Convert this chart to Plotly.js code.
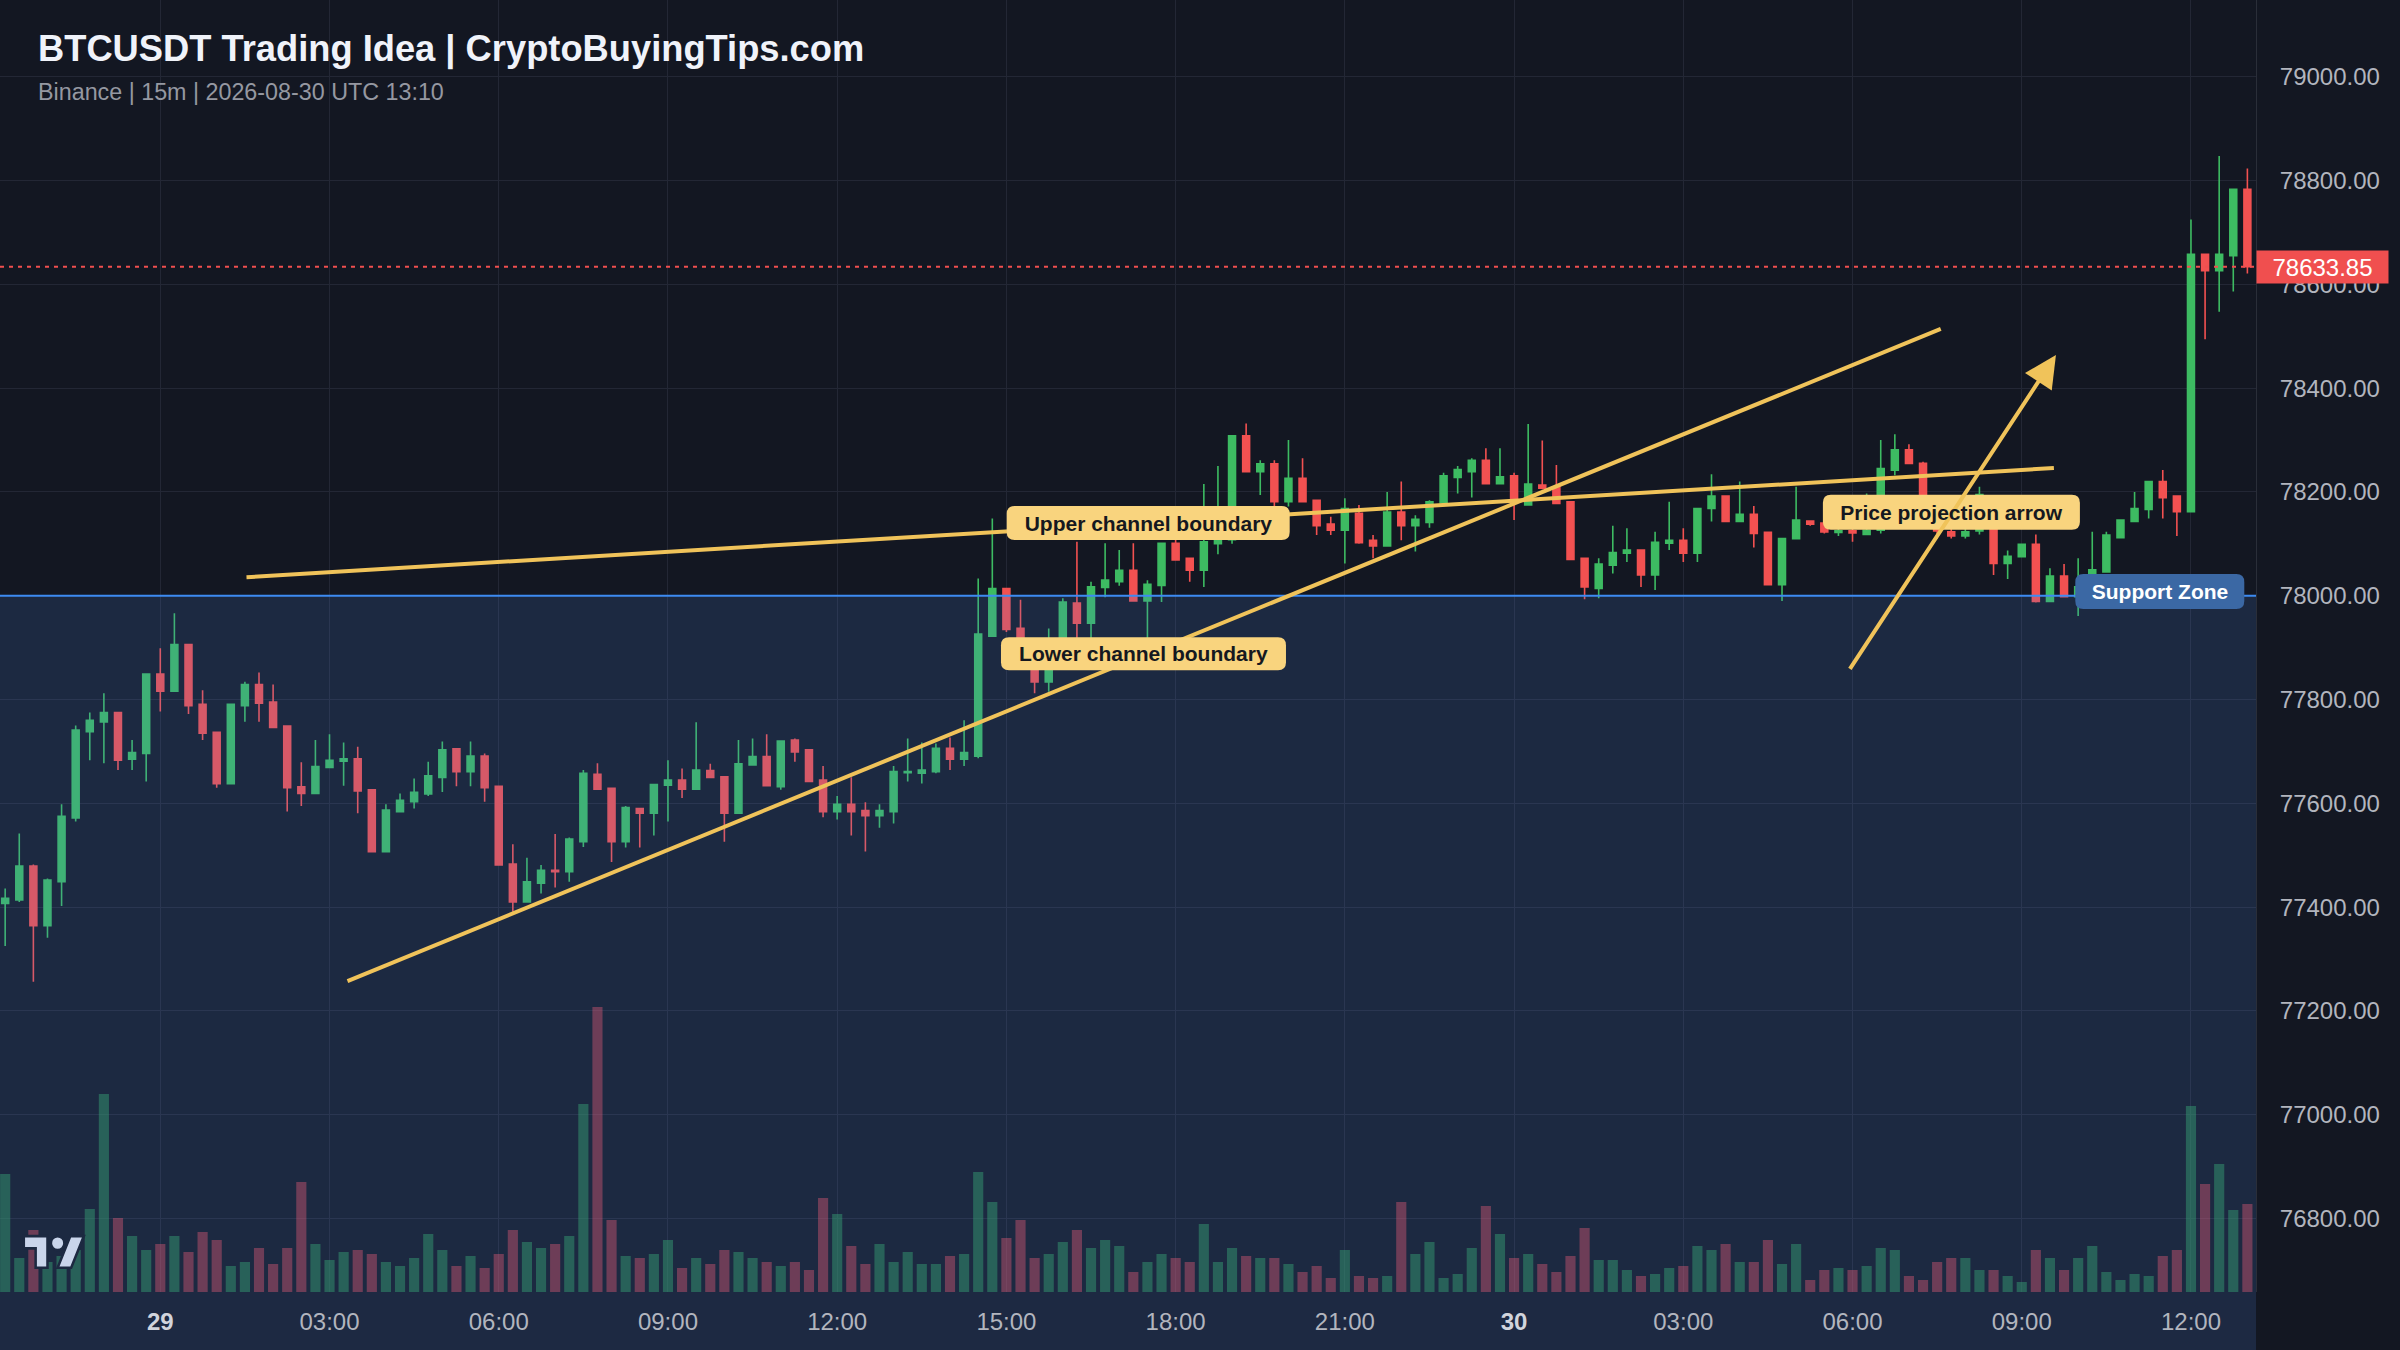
<!DOCTYPE html>
<html>
<head>
<meta charset="utf-8">
<script src="https://cdn.plot.ly/plotly-3.0.1.min.js"></script>
<style>
  html, body { margin: 0; padding: 0; background: #131722; }
  #chart { width: 2400px; height: 1350px; }
</style>
</head>
<body>
<div id="chart"></div>
<script>
// ---------------- DATA ----------------
const SYMBOL_TITLE = 'BTCUSDT Trading Idea | CryptoBuyingTips.com';
const SUBTITLE = 'Binance | 15m | 2026-08-30 UTC 13:10';
const FIRST_CANDLE = '2026-08-28T21:15:00Z';   // 15-minute candles
const INTERVAL_MIN = 15;

const OPEN = [77407,77414,77479,77364,77449,77572,77738,77757,77775,77685,
77696,77849,77816,77906,77791,77737,77638,77788,77829,77795,
77749,77632,77619,77669,77681,77686,77626,77507,77584,77603,
77618,77650,77705,77661,77691,77633,77483,77410,77446,77471,
77468,77526,77656,77629,77526,77590,77581,77635,77645,77627,
77663,77651,77581,77674,77690,77632,77722,77703,77645,77584,
77598,77586,77576,77584,77659,77658,77661,77706,77685,77691,
77922,78014,77937,77880,77834,77915,77986,77947,78016,78027,
78049,77990,78020,78101,78072,78049,78100,78108,78308,78239,
78254,78181,78226,78184,78138,78126,78159,78107,78096,78161,
78135,78141,78179,78228,78239,78261,78216,78231,78175,78213,
78210,78181,78072,78014,78059,78082,78088,78040,78101,78107,
78082,78168,78192,78143,78157,78122,78021,78110,78144,78140,
78122,78125,78118,78126,78242,78281,78255,78150,78123,78115,
78125,78190,78062,78075,78099,77989,78038,77998,77998,78046,
78112,78143,78166,78220,78192,78162,78658,78626,78655,78783];

const HIGH = [77436,77542,77482,77455,77598,77750,77775,77812,77775,77722,
77849,77899,77966,77906,77818,77737,77791,77834,77852,77829,
77749,77679,77722,77733,77717,77709,77626,77598,77619,77648,
77680,77719,77706,77719,77696,77633,77521,77495,77481,77541,
77534,77664,77677,77629,77595,77590,77636,77683,77667,77756,
77676,77651,77722,77725,77733,77720,77725,77703,77672,77614,
77650,77602,77598,77672,77725,77717,77715,77727,77760,78033,
78149,78014,77992,77890,77937,77995,78104,78027,78101,78088,
78101,78030,78101,78114,78072,78215,78250,78308,78332,78261,
78261,78300,78265,78184,78152,78188,78175,78117,78200,78220,
78155,78184,78237,78250,78265,78284,78284,78237,78331,78299,
78252,78181,78072,78072,78135,78130,78088,78123,78181,78130,
78168,78234,78192,78220,78173,78122,78110,78210,78144,78140,
78140,78130,78197,78300,78311,78292,78258,78160,78130,78135,
78210,78190,78087,78099,78118,78053,78061,78072,78123,78123,
78146,78200,78220,78242,78192,78725,78658,78847,78783,78823];

const LOW = [77325,77410,77256,77341,77402,77565,77683,77677,77664,77664,
77642,77777,77816,77772,77722,77630,77638,77757,77757,77746,
77584,77595,77619,77669,77634,77581,77507,77507,77584,77590,
77614,77622,77633,77633,77603,77481,77391,77410,77426,77438,
77449,77516,77627,77487,77515,77515,77538,77565,77610,77627,
77650,77526,77581,77674,77634,77626,77680,77642,77573,77569,
77538,77507,77553,77561,77642,77638,77658,77664,77672,77687,
77922,77930,77860,77812,77815,77870,77915,77918,77997,78019,
77990,77918,77988,78069,78027,78017,78080,78100,78239,78194,
78160,78172,78181,78117,78117,78062,78100,78072,78096,78107,
78085,78131,78179,78197,78189,78216,78216,78146,78175,78205,
78178,78070,77993,77995,78043,78065,78017,78011,78088,78065,
78065,78143,78143,78143,78093,78021,77990,78110,78135,78120,
78115,78104,78118,78120,78232,78255,78140,78110,78110,78110,
78118,78040,78032,78075,77987,77989,77998,77961,77998,78046,
78112,78143,78149,78149,78115,78162,78494,78547,78586,78621];

const CLOSE = [77417,77479,77364,77452,77575,77741,77760,77775,77683,77698,
77849,77816,77906,77788,77735,77638,77791,77829,77793,77746,
77630,77619,77671,77683,77686,77624,77507,77587,77606,77621,
77653,77703,77661,77691,77630,77481,77410,77449,77471,77468,
77531,77658,77627,77526,77592,77581,77636,77645,77627,77664,
77650,77581,77676,77690,77634,77720,77699,77642,77584,77598,
77584,77576,77586,77661,77661,77664,77706,77685,77698,77926,
78014,77935,77880,77834,77912,77988,77947,78017,78030,78049,
77990,78022,78101,78069,78049,78104,78110,78308,78239,78254,
78181,78226,78181,78135,78126,78168,78102,78096,78161,78135,
78147,78181,78231,78243,78261,78216,78229,78179,78215,78207,
78178,78070,78017,78061,78083,78088,78040,78103,78107,78082,
78168,78192,78143,78157,78120,78021,78110,78146,78138,78123,
78125,78121,78126,78245,78281,78255,78150,78125,78115,78123,
78195,78062,78076,78099,77989,78038,77998,78017,78050,78117,
78146,78168,78220,78189,78162,78658,78626,78658,78783,78633.85];

const VOLUME = [118,34,62,30,36,42,83,198,74,56,
42,48,56,40,60,52,26,30,44,28,
44,110,48,32,40,42,38,30,26,34,
58,42,26,36,24,38,62,50,44,48,
56,188,285,72,36,34,38,52,24,34,
28,42,40,34,30,26,30,22,94,78,
46,28,48,30,40,28,28,36,38,120,
90,54,72,34,38,50,62,44,52,46,
20,30,38,34,30,68,30,44,36,34,
34,28,20,26,14,42,16,14,16,90,
38,50,14,18,44,86,58,34,38,28,
20,36,64,32,32,22,16,18,24,26,
46,42,48,30,30,52,28,48,12,22,
24,22,26,44,42,16,12,30,34,34,
22,22,16,10,42,34,22,34,46,20,
12,18,16,36,42,186,108,128,82,88];

const LAST_PRICE = 78633.85;
const SUPPORT_LEVEL = 78000;

const X_RANGE = ['2026-08-28 21:09:30', '2026-08-30 13:09:10'];
const Y_RANGE = [76658.4, 79147.8];
const VOLUME_RANGE = [0, 1292];

const X_TICK_VALS = ['2026-08-29 00:00','2026-08-29 03:00','2026-08-29 06:00','2026-08-29 09:00',
  '2026-08-29 12:00','2026-08-29 15:00','2026-08-29 18:00','2026-08-29 21:00',
  '2026-08-30 00:00','2026-08-30 03:00','2026-08-30 06:00','2026-08-30 09:00','2026-08-30 12:00'];
const X_TICK_TEXT = ['<b><span style="color:#d1d4dc">29</span></b>','03:00','06:00','09:00','12:00','15:00','18:00','21:00',
  '<b><span style="color:#d1d4dc">30</span></b>','03:00','06:00','09:00','12:00'];
const Y_TICK_VALS = [76800,77000,77200,77400,77600,77800,78000,78200,78400,78600,78800,79000];

// Drawn trend lines: [x0, y0, x1, y1]
const UPPER_CHANNEL = ['2026-08-29 01:31:41', 78035.5, '2026-08-30 09:34:12', 78246];
const LOWER_CHANNEL = ['2026-08-29 03:19:07', 77257.5, '2026-08-30 07:33:50', 78514];
const PROJECTION_ARROW = ['2026-08-30 05:56:10', 77856, '2026-08-30 09:36:22', 78463.8];

// Labels: [text, x, y]
const LABEL_UPPER = ['Upper channel boundary', '2026-08-29 17:30:50', 78140];
const LABEL_LOWER = ['Lower channel boundary', '2026-08-29 17:25:48', 77888];
const LABEL_ARROW = ['Price projection arrow', '2026-08-30 07:45:10', 78161];
const LABEL_SUPPORT = ['Support Zone', '2026-08-30 11:26:50', 78008];

// ---------------- STYLE ----------------
const FONT = 'Liberation Sans, Arial, Helvetica, sans-serif';
const UP = '#3dbb62';
const DOWN = '#f25151';
const GOLD = '#f0c35a';
const LABEL_BG = '#f9d47e';
const SUPPORT_BG = '#3b68a4';
const GRID = '#232735';

const times = OPEN.map((_, i) => {
  const d = new Date(Date.parse(FIRST_CANDLE) + i * INTERVAL_MIN * 60000);
  return d.toISOString().slice(0, 19).replace('T', ' ');
});
const volColors = OPEN.map((o, i) => CLOSE[i] >= o ? 'rgba(48,160,92,0.5)' : 'rgba(236,80,96,0.45)');

const volumeTrace = {
  type: 'bar', x: times, y: VOLUME, yaxis: 'y2', xaxis: 'x',
  marker: { color: volColors, line: { width: 0 } },
  hoverinfo: 'skip'
};
const candleTrace = {
  type: 'candlestick', x: times, open: OPEN, high: HIGH, low: LOW, close: CLOSE,
  xaxis: 'x', yaxis: 'y',
  increasing: { line: { color: UP, width: 1.6 }, fillcolor: UP },
  decreasing: { line: { color: DOWN, width: 1.6 }, fillcolor: DOWN },
  whiskerwidth: 0, hoverinfo: 'skip'
};

function lineShape(l) {
  return { type: 'line', xref: 'x', yref: 'y', x0: l[0], y0: l[1], x1: l[2], y1: l[3],
           line: { color: GOLD, width: 4 }, layer: 'above' };
}
function roundedPath(w, h, r) {
  const a = w / 2, b = h / 2;
  return `M ${-a + r},${-b} L ${a - r},${-b} Q ${a},${-b} ${a},${-b + r} L ${a},${b - r} Q ${a},${b} ${a - r},${b} ` +
         `L ${-a + r},${b} Q ${-a},${b} ${-a},${b - r} L ${-a},${-b + r} Q ${-a},${-b} ${-a + r},${-b} Z`;
}
function labelBox(l, w, h, color) {
  return { type: 'path', xref: 'x', yref: 'y', xsizemode: 'pixel', ysizemode: 'pixel',
           xanchor: l[1], yanchor: l[2], path: roundedPath(w, h, 8),
           fillcolor: color, line: { width: 0 }, layer: 'above' };
}
function labelText(l, w, color) {
  return { xref: 'x', yref: 'y', x: l[1], y: l[2], text: '<b>' + l[0] + '</b>', showarrow: false,
           font: { family: FONT, size: 21, color: color }, width: w, height: 25, align: 'center',
           borderpad: 0 };
}

const tvLogo = '<svg xmlns="http://www.w3.org/2000/svg" viewBox="-1 2 38 22">' +
  '<g fill="#e3e6ee" stroke="#131722" stroke-width="1.5">' +
  '<path d="M14 22H7V11H0V4h14v18zM28 22h-8l7.5-18h8L28 22z"/>' +
  '<circle cx="20" cy="8" r="4"/></g></svg>';

const layout = {
  width: 2400, height: 1350,
  margin: { l: 0, r: 144, t: 0, b: 58, pad: 0 },
  paper_bgcolor: '#131722', plot_bgcolor: '#131722',
  font: { family: FONT, color: '#b2b5be', size: 24 },
  showlegend: false, boxgap: 0.3, bargap: 0.28, dragmode: false,
  xaxis: {
    type: 'date', range: X_RANGE, rangeslider: { visible: false },
    tickmode: 'array', tickvals: X_TICK_VALS, ticktext: X_TICK_TEXT,
    tickfont: { family: FONT, size: 24, color: '#b2b5be' },
    showgrid: true, gridcolor: GRID, gridwidth: 1, zeroline: false, showline: false,
    ticks: '', ticklabelstandoff: 13, fixedrange: true
  },
  yaxis: {
    range: Y_RANGE, side: 'right', tickmode: 'array', tickvals: Y_TICK_VALS, tickformat: '.2f',
    tickfont: { family: FONT, size: 24, color: '#b2b5be' },
    showgrid: true, gridcolor: GRID, gridwidth: 1, zeroline: false,
    showline: true, linecolor: '#2a2e39', linewidth: 1,
    ticks: '', ticklabelstandoff: 18, fixedrange: true
  },
  yaxis2: { overlaying: 'y', range: VOLUME_RANGE, visible: false, fixedrange: true },
  shapes: [
    { type: 'rect', xref: 'paper', yref: 'paper', x0: 0, x1: 1, y0: -0.1, y1: 0,
      fillcolor: '#1d2942', line: { width: 0 }, layer: 'below' },
    { type: 'rect', xref: 'paper', yref: 'y', x0: 0, x1: 1, y0: Y_RANGE[0], y1: SUPPORT_LEVEL,
      fillcolor: 'rgba(80,130,222,0.17)', line: { width: 0 }, layer: 'above' },
    { type: 'line', xref: 'paper', yref: 'y', x0: 0, x1: 1, y0: SUPPORT_LEVEL, y1: SUPPORT_LEVEL,
      line: { color: '#3d8bf2', width: 2 }, layer: 'above' },
    { type: 'line', xref: 'paper', yref: 'y', x0: 0, x1: 1, y0: LAST_PRICE, y1: LAST_PRICE,
      line: { color: '#f04f4f', width: 2, dash: '4px,5px' }, layer: 'above' },
    lineShape(UPPER_CHANNEL),
    lineShape(LOWER_CHANNEL),
    labelBox(LABEL_UPPER, 283, 34, LABEL_BG),
    labelBox(LABEL_LOWER, 285, 33, LABEL_BG),
    labelBox(LABEL_ARROW, 257, 35, LABEL_BG),
    labelBox(LABEL_SUPPORT, 169, 35, SUPPORT_BG)
  ],
  annotations: [
    { xref: 'paper', yref: 'paper', x: 0.0160, y: 0.9621, xanchor: 'left', yanchor: 'middle',
      text: '<b>' + SYMBOL_TITLE + '</b>', showarrow: false,
      font: { family: FONT, size: 36.3, color: '#f0f3fa' } },
    { xref: 'paper', yref: 'paper', x: 0.0160, y: 0.9288, xanchor: 'left', yanchor: 'middle',
      text: SUBTITLE, showarrow: false, font: { family: FONT, size: 23.3, color: '#9598a1' } },
    { xref: 'x', yref: 'y', axref: 'x', ayref: 'y',
      x: PROJECTION_ARROW[2], y: PROJECTION_ARROW[3], ax: PROJECTION_ARROW[0], ay: PROJECTION_ARROW[1],
      text: '', showarrow: true, arrowhead: 2, arrowsize: 1.6, arrowwidth: 4, arrowcolor: GOLD },
    labelText(LABEL_UPPER, 275, '#151820'),
    labelText(LABEL_LOWER, 277, '#151820'),
    labelText(LABEL_ARROW, 249, '#151820'),
    labelText(LABEL_SUPPORT, 160, '#ffffff'),
    { xref: 'paper', yref: 'y', x: 1, y: LAST_PRICE, xanchor: 'left', yanchor: 'middle',
      text: LAST_PRICE.toFixed(2), showarrow: false, font: { family: FONT, size: 24, color: '#ffffff' },
      bgcolor: '#f04f4f', borderpad: 3, width: 125, height: 26, align: 'center' }
  ],
  images: [
    { source: 'data:image/svg+xml;utf8,' + encodeURIComponent(tvLogo),
      xref: 'paper', yref: 'paper', x: 0.0098, y: 0.046, sizex: 0.0285, sizey: 0.03,
      xanchor: 'left', yanchor: 'top', sizing: 'stretch', layer: 'above' }
  ]
};

Plotly.newPlot('chart', [volumeTrace, candleTrace], layout, { displayModeBar: false, staticPlot: true });
</script>
</body>
</html>
